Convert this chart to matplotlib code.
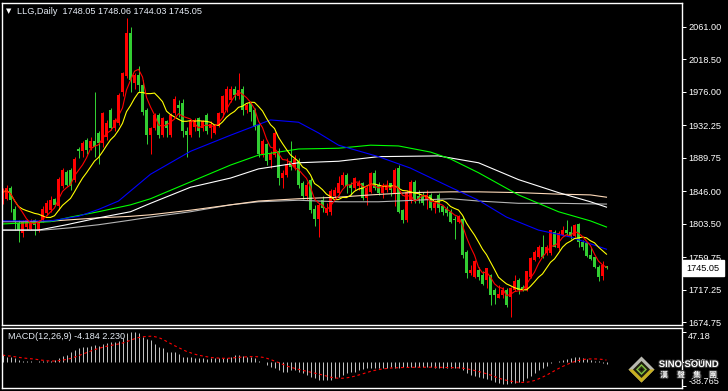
import numpy as np
import pandas as pd
import matplotlib
matplotlib.use('Agg')
import matplotlib.pyplot as plt
import matplotlib.patheffects as pe
from matplotlib.patches import Polygon

# daily bars (oldest first)
opens = [1830, 1836, 1850, 1822, 1804, 1791, 1799, 1797, 1808, 1795,
         1808, 1817, 1821, 1836, 1826, 1852, 1871, 1873, 1861, 1901,
         1898, 1913, 1902, 1911, 1922, 1909, 1917, 1952, 1928, 1935,
         1976, 1996, 2052, 1987, 1998, 1985, 1952, 1919, 1928, 1946,
         1919, 1937, 1919, 1948, 1959, 1961, 1924, 1919, 1930, 1941,
         1928, 1946, 1928, 1922, 1932, 1948, 1952, 1965, 1980, 1970,
         1980, 1952, 1961, 1952, 1932, 1895, 1908, 1887, 1893, 1898,
         1863, 1867, 1885, 1878, 1885, 1856, 1839, 1861, 1823, 1810,
         1834, 1817, 1819, 1839, 1843, 1854, 1867, 1854, 1850, 1852,
         1857, 1837, 1845, 1870, 1854, 1843, 1848, 1856, 1843, 1876,
         1821, 1808, 1834, 1858, 1839, 1839, 1834, 1841, 1824, 1841,
         1826, 1823, 1819, 1810, 1806, 1810, 1767, 1739, 1734, 1743,
         1736, 1730, 1736, 1717, 1706, 1710, 1717, 1708, 1717, 1730,
         1721, 1717, 1734, 1756, 1760, 1773, 1765, 1765, 1793, 1771,
         1789, 1795, 1793, 1787, 1803, 1780, 1778, 1762, 1760, 1747,
         1735, 1748.05]
highs = [1850, 1854, 1852, 1827, 1808, 1808, 1810, 1810, 1810, 1808,
         1826, 1834, 1839, 1837, 1865, 1876, 1874, 1876, 1891, 1904,
         1911, 1915, 1917, 1976, 1924, 1950, 1939, 1954, 1941, 1974,
         2002, 2072, 2061, 2000, 2009, 1991, 1955, 1930, 1948, 1948,
         1943, 1939, 1948, 1970, 1965, 1967, 1930, 1939, 1941, 1943,
         1939, 1948, 1937, 1934, 1950, 1972, 1983, 1983, 1983, 2001,
         1983, 1961, 1963, 1955, 1935, 1914, 1909, 1898, 1924, 1902,
         1874, 1889, 1911, 1893, 1889, 1859, 1858, 1863, 1828, 1830,
         1839, 1830, 1849, 1851, 1866, 1871, 1869, 1858, 1865, 1861,
         1858, 1852, 1871, 1874, 1858, 1856, 1861, 1857, 1876, 1880,
         1823, 1847, 1860, 1860, 1847, 1845, 1847, 1843, 1834, 1843,
         1828, 1826, 1823, 1813, 1815, 1813, 1769, 1749, 1756, 1747,
         1741, 1745, 1738, 1719, 1723, 1721, 1719, 1721, 1736, 1732,
         1723, 1741, 1760, 1769, 1776, 1789, 1776, 1795, 1795, 1794,
         1800, 1808, 1800, 1803, 1804, 1782, 1778, 1773, 1760, 1749,
         1754, 1748.06]
lows = [1829, 1834, 1819, 1795, 1780, 1786, 1795, 1795, 1789, 1793,
        1806, 1815, 1819, 1826, 1821, 1850, 1852, 1847, 1858, 1889,
        1891, 1895, 1900, 1891, 1882, 1904, 1913, 1926, 1924, 1933,
        1970, 1994, 1976, 1980, 1976, 1946, 1908, 1895, 1926, 1915,
        1917, 1917, 1917, 1946, 1943, 1917, 1891, 1917, 1925, 1917,
        1924, 1920, 1915, 1920, 1930, 1943, 1950, 1963, 1965, 1967,
        1946, 1948, 1937, 1926, 1891, 1891, 1880, 1876, 1891, 1854,
        1850, 1865, 1874, 1874, 1850, 1835, 1834, 1817, 1800, 1786,
        1819, 1815, 1815, 1837, 1841, 1852, 1843, 1841, 1848, 1848,
        1834, 1828, 1844, 1847, 1841, 1837, 1845, 1839, 1826, 1817,
        1804, 1806, 1830, 1830, 1830, 1828, 1823, 1821, 1817, 1819,
        1815, 1813, 1804, 1784, 1804, 1758, 1732, 1736, 1732, 1730,
        1723, 1719, 1697, 1699, 1706, 1706, 1695, 1682, 1715, 1712,
        1715, 1715, 1732, 1754, 1758, 1758, 1762, 1762, 1773, 1769,
        1787, 1789, 1784, 1786, 1773, 1769, 1760, 1756, 1745, 1728,
        1730, 1744.03]
closes = [1844, 1850, 1834, 1806, 1795, 1806, 1808, 1807, 1802, 1806,
          1822, 1830, 1834, 1828, 1862, 1874, 1854, 1852, 1888, 1898,
          1909, 1900, 1911, 1904, 1909, 1948, 1935, 1928, 1939, 1972,
          2000, 2052, 1991, 1998, 1985, 1950, 1919, 1928, 1946, 1919,
          1941, 1928, 1946, 1967, 1954, 1924, 1919, 1937, 1939, 1924,
          1937, 1924, 1934, 1932, 1948, 1970, 1980, 1980, 1972, 1978,
          1952, 1959, 1950, 1930, 1895, 1911, 1885, 1896, 1922, 1863,
          1870, 1882, 1878, 1888, 1854, 1839, 1854, 1821, 1810, 1828,
          1824, 1824, 1846, 1847, 1856, 1867, 1852, 1850, 1863, 1857,
          1837, 1850, 1870, 1850, 1843, 1852, 1854, 1848, 1874, 1819,
          1808, 1845, 1858, 1834, 1834, 1830, 1841, 1824, 1830, 1824,
          1819, 1817, 1806, 1808, 1813, 1762, 1739, 1743, 1754, 1734,
          1725, 1745, 1710, 1710, 1712, 1717, 1697, 1719, 1728, 1717,
          1717, 1741, 1758, 1767, 1773, 1760, 1773, 1795, 1773, 1791,
          1795, 1791, 1787, 1802, 1780, 1773, 1761, 1757, 1747, 1734,
          1749, 1745.05]

# MACD(12,26,9) main values per bar
macd_hist = [10.6, 8.0, 8.0, 5.3, 2.7, 1.1, 1.0, 0.5, 0.2, 0.5, 0.6, 1.1, 1.6, 2.2,
             5.3, 9.5, 10.6, 14.8, 18.6, 21.2, 22.8, 23.9, 25.4, 26.5, 25.4, 27.6,
             29.2, 30.7, 31.8, 32.9,
             37.1, 45.1, 47.2, 47.0, 45.1, 39.8, 36.0, 34.5, 27.6, 23.9, 21.2, 15.9,
             15.9, 14.8, 11.7, 8.0, 8.0, 7.4, 5.3, 5.3,
             5.3, 4.2, 5.3, 5.3, 5.3, 5.3, 6.4, 8.0, 10.6, 10.6, 9.5, 8.0, 8.0, 6.4, 1.6, 0.0,
             -5.3, -8.0, -10.6, -13.3, -15.9, -15.9, -13.3, -13.3, -15.9, -18.6, -21.2,
             -23.9, -26.5, -29.2, -29.2, -29.2, -29.2, -26.5, -23.9, -21.2, -18.6, -15.9,
             -15.9, -13.3,
             -11.7, -10.6, -9.5, -9.5, -9.5, -9.5, -9.5, -9.0, -10.6, -9.5, -8.0, -9.0,
             -8.0, -8.0, -9.0, -9.0, -9.0, -9.0, -10.6, -9.5, -9.5, -10.6, -10.6, -10.6, -9.5,
             -13.3, -18.6, -21.2, -22.8, -23.9, -26.5, -27.6, -29.2, -31.8, -34.5, -36.0,
             -36.0, -34.5, -34.5, -31.8, -30.7, -26.5, -22.3, -18.6, -13.3, -10.6, -6.4,
             -2.7, 0.0, 1.1, 2.7, 3.7, 5.3, 6.9, 6.9, 5.3, 4.2, 2.7, 1.6, 0.5, -2.0, -4.184]

# long moving averages, sampled (bar index, value)
ma_blue_idx = [0, 12, 19, 24, 29, 37, 47, 57, 67, 74, 79, 84, 94, 102, 112, 119, 126, 134, 142, 147, 151]
ma_blue = [1807, 1807, 1813, 1822, 1833, 1868, 1898, 1919, 1939, 1936, 1922, 1906, 1891,
           1876, 1851, 1834, 1812, 1795, 1786, 1777, 1770]
ma_green_idx = [0, 12, 17, 24, 32, 37, 47, 57, 64, 74, 84, 92, 99, 107, 112, 119, 129, 139, 147, 151]
ma_green = [1803, 1806, 1812, 1819, 1828, 1836, 1858, 1880, 1893, 1901, 1902, 1906, 1905,
            1897, 1888, 1870, 1841, 1819, 1807, 1799]
ma_white_idx = [0, 9, 12, 16, 24, 32, 37, 47, 57, 64, 74, 84, 94, 109, 119, 129, 139, 147, 151]
ma_white = [1795, 1795, 1798, 1802, 1811, 1819, 1830, 1851, 1863, 1875, 1883, 1885, 1891,
            1892, 1883, 1861, 1844, 1832, 1825]
ma_peach_idx = [0, 10, 24, 32, 37, 47, 57, 64, 74, 84, 92, 102, 112, 119, 129, 139, 147, 151]
ma_peach = [1806, 1806, 1811, 1813, 1815, 1821, 1828, 1833, 1836, 1838, 1841, 1844, 1845,
            1845, 1844, 1842, 1841, 1838]
ma_gray_idx = [0, 10, 17, 24, 32, 37, 47, 57, 64, 74, 84, 94, 112, 119, 129, 139, 151]
ma_gray = [1795, 1795, 1798, 1802, 1808, 1812, 1819, 1828, 1832, 1834, 1832, 1832, 1836,
           1833, 1830, 1830, 1829]

price_ticks = [2061.00, 2018.50, 1976.00, 1932.25, 1889.75, 1846.00, 1803.50, 1759.75, 1717.25, 1674.75]
macd_ticks = [47.18, 0.0, -38.765]
macd_labels = ['47.18', '0.00', '-38.765']
last_price = 1745.05
header = 'LLG,Daily  1748.05 1748.06 1744.03 1745.05'
macd_title = 'MACD(12,26,9) -4.184 2.230'
logo_cn = ['漢', '聲', '集', '團']

plt.rcParams['font.family'] = ['Liberation Sans', 'DejaVu Sans']

W, H = 728, 391
fig = plt.figure(figsize=(W / 100, H / 100), dpi=100, facecolor='black')


def box(l, t, r, b):
    return [l / W, 1 - b / H, (r - l) / W, (b - t) / H]


ax = fig.add_axes(box(2, 2.5, 682, 324.5))
mx = fig.add_axes(box(2, 327.5, 682, 387.5))

x = np.arange(len(closes))
o, h, l, c = (np.array(v, dtype=float) for v in (opens, highs, lows, closes))
col = np.where(c >= o, '#ff0000', '#32cd32')

ax.vlines(x, l, h, colors=col, lw=0.72)
ax.bar(x, np.maximum(np.abs(c - o), 1.3), bottom=np.minimum(o, c), width=0.75,
       color=col, linewidth=0)

for idx, vals, cl in [(ma_gray_idx, ma_gray, '#b4b4b4'), (ma_peach_idx, ma_peach, '#ffdab9'),
                      (ma_white_idx, ma_white, '#ffffff'), (ma_green_idx, ma_green, '#00ff00'),
                      (ma_blue_idx, ma_blue, '#0000ff')]:
    ax.plot(idx, vals, color=cl, lw=0.8)

s = pd.Series(c)
ax.plot(x, s.rolling(10, min_periods=1).mean(), color='#ffff00', lw=0.8)
ax.plot(x, s.rolling(5, min_periods=1).mean(), color='#ff0000', lw=0.8)

ax.set_xlim(-0.125, 169.875)
ax.set_ylim(1671.6, 2092.5)

# MACD pane
mx.vlines(x, 0, macd_hist, colors='#c0c0c0', lw=0.72)
sig = pd.Series(macd_hist).rolling(9, min_periods=1).mean()
mx.plot(x, sig, color='#ff0000', lw=0.8, linestyle=(0, (2.5, 2.5)))
mx.set_xlim(-0.125, 169.875)
mx.set_ylim(-41.3, 54.5)

for a in (ax, mx):
    a.set_facecolor('black')
    for sp in a.spines.values():
        sp.set_color('white')
        sp.set_linewidth(1.0)
    a.set_xticks([])
    a.yaxis.tick_right()
    a.tick_params(axis='y', colors='white', length=3, width=0.72, pad=1.5,
                  labelsize=6.6, labelcolor='white')

ax.set_yticks(price_ticks)
ax.set_yticklabels([f'{v:.2f}' for v in price_ticks])
mx.set_yticks(macd_ticks)
mx.set_yticklabels(macd_labels)
labs = mx.get_yticklabels()
labs[0].set_va('top')
labs[2].set_va('bottom')

ax.annotate(f'{last_price:.2f}', xy=(1, last_price), xycoords=('axes fraction', 'data'),
            xytext=(3.4, 0), textcoords='offset points', ha='left', va='center',
            fontsize=6.6, color='black',
            bbox=dict(boxstyle='square,pad=0.4', fc='white', ec='white'))

fig.text(6 / W, 1 - 11 / H, '\u25bc', color='white', fontsize=5, va='center',
         family=['DejaVu Sans'])
fig.text(17 / W, 1 - 11 / H, header, color='#e6ecf5', fontsize=6.6, va='center')
mx.text(6 / 680, 1 - 9 / 60, macd_title, transform=mx.transAxes, color='#e6ecf5',
        fontsize=6.6, va='center')

# logo
cx, cy = 641.5, 369.5


def fpt(px, py):
    return (px / W, 1 - py / H)


def poly(pts, fc):
    fig.patches.append(Polygon([fpt(*p) for p in pts], closed=True, fc=fc, ec='none',
                               transform=fig.transFigure, figure=fig, zorder=10))


def diamond(r, fc):
    poly([(cx, cy - r), (cx + r, cy), (cx, cy + r), (cx - r, cy)], fc)


diamond(13, '#b8b8b0')
poly([(cx - 13, cy), (cx, cy + 13), (cx + 13, cy), (cx + 8, cy), (cx, cy + 8), (cx - 8, cy)],
     '#c8b020')
diamond(8.5, '#1e1e0c')
diamond(5.5, '#80c040')
diamond(3.5, '#2a3010')
diamond(1.5, '#101008')

stroke = [pe.withStroke(linewidth=1.5, foreground='#303030')]
fig.text(689 / W, 1 - 364.5 / H, 'SINO SOUND', color='white', fontsize=6.8, fontweight='bold',
         ha='center', va='center', zorder=11, path_effects=stroke)
for ch, px in zip(logo_cn, [664, 681, 697, 713]):
    fig.text(px / W, 1 - 375 / H, ch, color='white', fontsize=5.6, fontweight='bold',
             ha='center', va='center', zorder=11, family=['Noto Sans CJK TC'],
             path_effects=stroke)

fig.savefig('out.png', dpi=100, facecolor='black')
